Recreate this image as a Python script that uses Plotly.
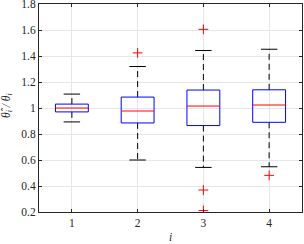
import plotly.graph_objects as go

groups = [1, 2, 3, 4]
q1 = [0.970, 0.885, 0.865, 0.890]
med = [1.000, 0.977, 1.015, 1.023]
q3 = [1.030, 1.084, 1.138, 1.140]
lower = [0.893, 0.600, 0.543, 0.548]
upper = [1.107, 1.319, 1.442, 1.452]
out_x = [2, 3, 3, 3, 4]
out_y = [1.424, 1.605, 0.369, 0.211, 0.482]
y_ticks = [0.2, 0.4, 0.6, 0.8, 1.0, 1.2, 1.4, 1.6, 1.8]
y_tick_text = ["0.2", "0.4", "0.6", "0.8", "1", "1.2", "1.4", "1.6", "1.8"]

BW = 0.25   # half box width
CW = 0.125  # half cap width

wx, wy, cx, cy, bx, by, mx, my = [], [], [], [], [], [], [], []
for g, a, m, b, lo, hi in zip(groups, q1, med, q3, lower, upper):
    wx += [g, g, None, g, g, None]
    wy += [b, hi, None, a, lo, None]
    cx += [g - CW, g + CW, None, g - CW, g + CW, None]
    cy += [hi, hi, None, lo, lo, None]
    bx += [g - BW, g + BW, g + BW, g - BW, g - BW, None]
    by += [a, a, b, b, a, None]
    mx += [g - BW, g + BW, None]
    my += [m, m, None]

fig = go.Figure()
fig.add_trace(go.Scatter(x=wx, y=wy, mode="lines", line=dict(color="black", width=1, dash="6px,4px"),
                         hoverinfo="skip", showlegend=False))
fig.add_trace(go.Scatter(x=cx, y=cy, mode="lines", line=dict(color="black", width=1),
                         hoverinfo="skip", showlegend=False))
fig.add_trace(go.Scatter(x=bx, y=by, mode="lines", line=dict(color="#0000ff", width=1),
                         hoverinfo="skip", showlegend=False))
fig.add_trace(go.Scatter(x=mx, y=my, mode="lines", line=dict(color="#ff0000", width=1),
                         hoverinfo="skip", showlegend=False))
fig.add_trace(go.Scatter(x=out_x, y=out_y, mode="markers",
                         marker=dict(symbol="cross-thin", size=7, line=dict(color="#ff0000", width=1)),
                         showlegend=False))

FONT = dict(family="Liberation Serif", size=11.5, color="#262626")
axis_common = dict(
    showline=True, linecolor="#262626", linewidth=1, mirror="ticks",
    ticks="inside", ticklen=3, tickcolor="#262626",
    showgrid=True, gridcolor="#e6e6e6", gridwidth=1, zeroline=False,
    tickfont=FONT, automargin=False, ticklabeloverflow="allow",
)
fig.update_xaxes(range=[0.5, 4.5], tickvals=groups, ticktext=[str(g) for g in groups], **axis_common)
fig.update_yaxes(range=[0.2, 1.8], tickvals=y_ticks, ticktext=y_tick_text, **axis_common)
fig.add_annotation(text="<i>i</i>", xref="paper", yref="paper", x=0.5, y=-0.122,
                   showarrow=False, font=FONT, xanchor="center", yanchor="middle")
fig.add_annotation(text="<i>θ\u0302<sub>i</sub> / θ<sub>i</sub></i>", xref="paper", yref="paper",
                   x=-0.122, y=0.514, textangle=-90, showarrow=False, font=FONT,
                   xanchor="center", yanchor="middle")
fig.update_layout(width=304, height=244, margin=dict(l=39, r=2, t=4, b=32),
                  plot_bgcolor="white", paper_bgcolor="white")
fig.write_html("out.html", config={"displayModeBar": False},
               post_script="document.body.style.margin='0';document.body.style.overflow='hidden';")
